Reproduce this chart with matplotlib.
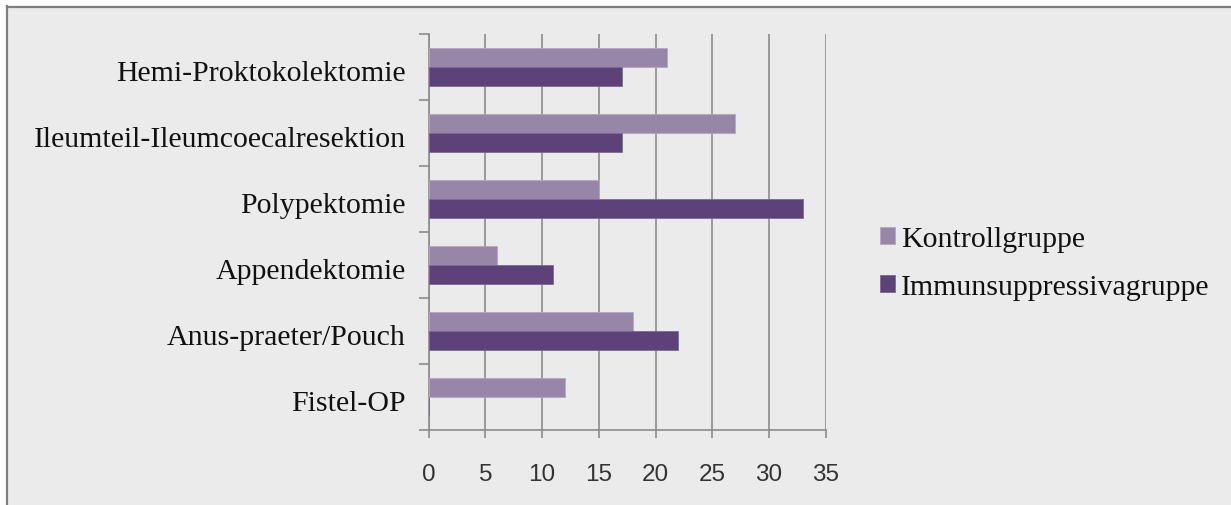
import matplotlib
matplotlib.use("Agg")
import matplotlib.pyplot as plt
from matplotlib.patches import Rectangle
from matplotlib.lines import Line2D
import matplotlib.transforms as mtransforms
import numpy as np

categories = ["Hemi-Proktokolektomie", "Ileumteil-Ileumcoecalresektion", "Polypektomie",
              "Appendektomie", "Anus-praeter/Pouch", "Fistel-OP"]
kontroll = [21, 27, 15, 6, 18, 12]
immun = [17, 17, 33, 11, 22, 0]
series_names = ["Kontrollgruppe", "Immunsuppressivagruppe"]
xticks = [0, 5, 10, 15, 20, 25, 30, 35]

W, H = 1231, 506
fig = plt.figure(figsize=(W / 100, H / 100), dpi=100)
fig.patch.set_facecolor("white")

bg = "#EBEBEB"
fig.patches.append(Rectangle((7 / W, 0), 1 - 7 / W, 1 - 8 / H, transform=fig.transFigure,
                             facecolor=bg, edgecolor="none", zorder=-10))
fig.lines.append(Line2D([7 / W, 7 / W], [0, 1 - 7 / H], transform=fig.transFigure,
                        color="#7F7F7F", lw=1.6, zorder=-9))
fig.lines.append(Line2D([7 / W, 1], [1 - 8 / H, 1 - 8 / H], transform=fig.transFigure,
                        color="#7F7F7F", lw=1.6, zorder=-9))

x0, x1 = 428.7, 825.7
y0, y1 = 35.3, 430.7
ax = fig.add_axes([x0 / W, 1 - y1 / H, (x1 - x0) / W, (y1 - y0) / H])
ax.set_zorder(1)
ax.set_facecolor("none")

pos = np.arange(len(categories))
h = 0.29
c_k = "#9786A8"
c_i = "#5D4279"
ax.barh(pos - h / 2, kontroll, height=h, color=c_k, edgecolor="#B5A8C2", linewidth=0.6,
        label=series_names[0], zorder=3)
ax.barh(pos + h / 2, immun, height=h, color=c_i, edgecolor="#7E6896", linewidth=0.6,
        label=series_names[1], zorder=3)

ax.set_xlim(0, 35)
ax.set_ylim(len(categories) - 0.5, -0.5)
ax.set_xticks(xticks)
ax.set_xticklabels([str(v) for v in xticks])
ax.xaxis.grid(True, color="#8C8C8C", lw=1.2, zorder=1)
ax.set_axisbelow(True)

ax.set_yticks(np.arange(-0.5, len(categories), 1.0))
ax.set_yticklabels([])
ax.set_yticks(pos, minor=True)
ax.set_yticklabels(categories, minor=True, family="Liberation Serif", fontsize=21.5, color="#111111")
ax.tick_params(axis="y", which="minor", length=0, pad=23 * 0.72)
ax.tick_params(axis="y", which="major", length=7, color="#8C8C8C", width=1.2, direction="out")
ax.tick_params(axis="x", length=6, color="#8C8C8C", width=1.2, direction="out", pad=18,
               labelsize=17.5, labelcolor="#333333")
for lab in ax.get_xticklabels():
    lab.set_family("Liberation Sans")
shift = mtransforms.ScaledTranslation(0, -3 / 100, fig.dpi_scale_trans)
for lab in ax.get_yticklabels(minor=True):
    lab.set_transform(lab.get_transform() + shift)

for s in ["top", "right"]:
    ax.spines[s].set_visible(False)
for s in ["left", "bottom"]:
    ax.spines[s].set_color("#8C8C8C")
    ax.spines[s].set_linewidth(1.2)

leg = fig.legend(loc="center left", bbox_to_anchor=(880 / W, 1 - 264 / H), frameon=False,
                 prop={"family": "Liberation Serif", "size": 21.5}, handlelength=0.5,
                 handleheight=0.5, handletextpad=0.2, labelspacing=0.75, borderaxespad=0,
                 borderpad=0)
for t in leg.get_texts():
    t.set_color("#111111")

fig.savefig("out.png", dpi=100, facecolor=fig.get_facecolor())
